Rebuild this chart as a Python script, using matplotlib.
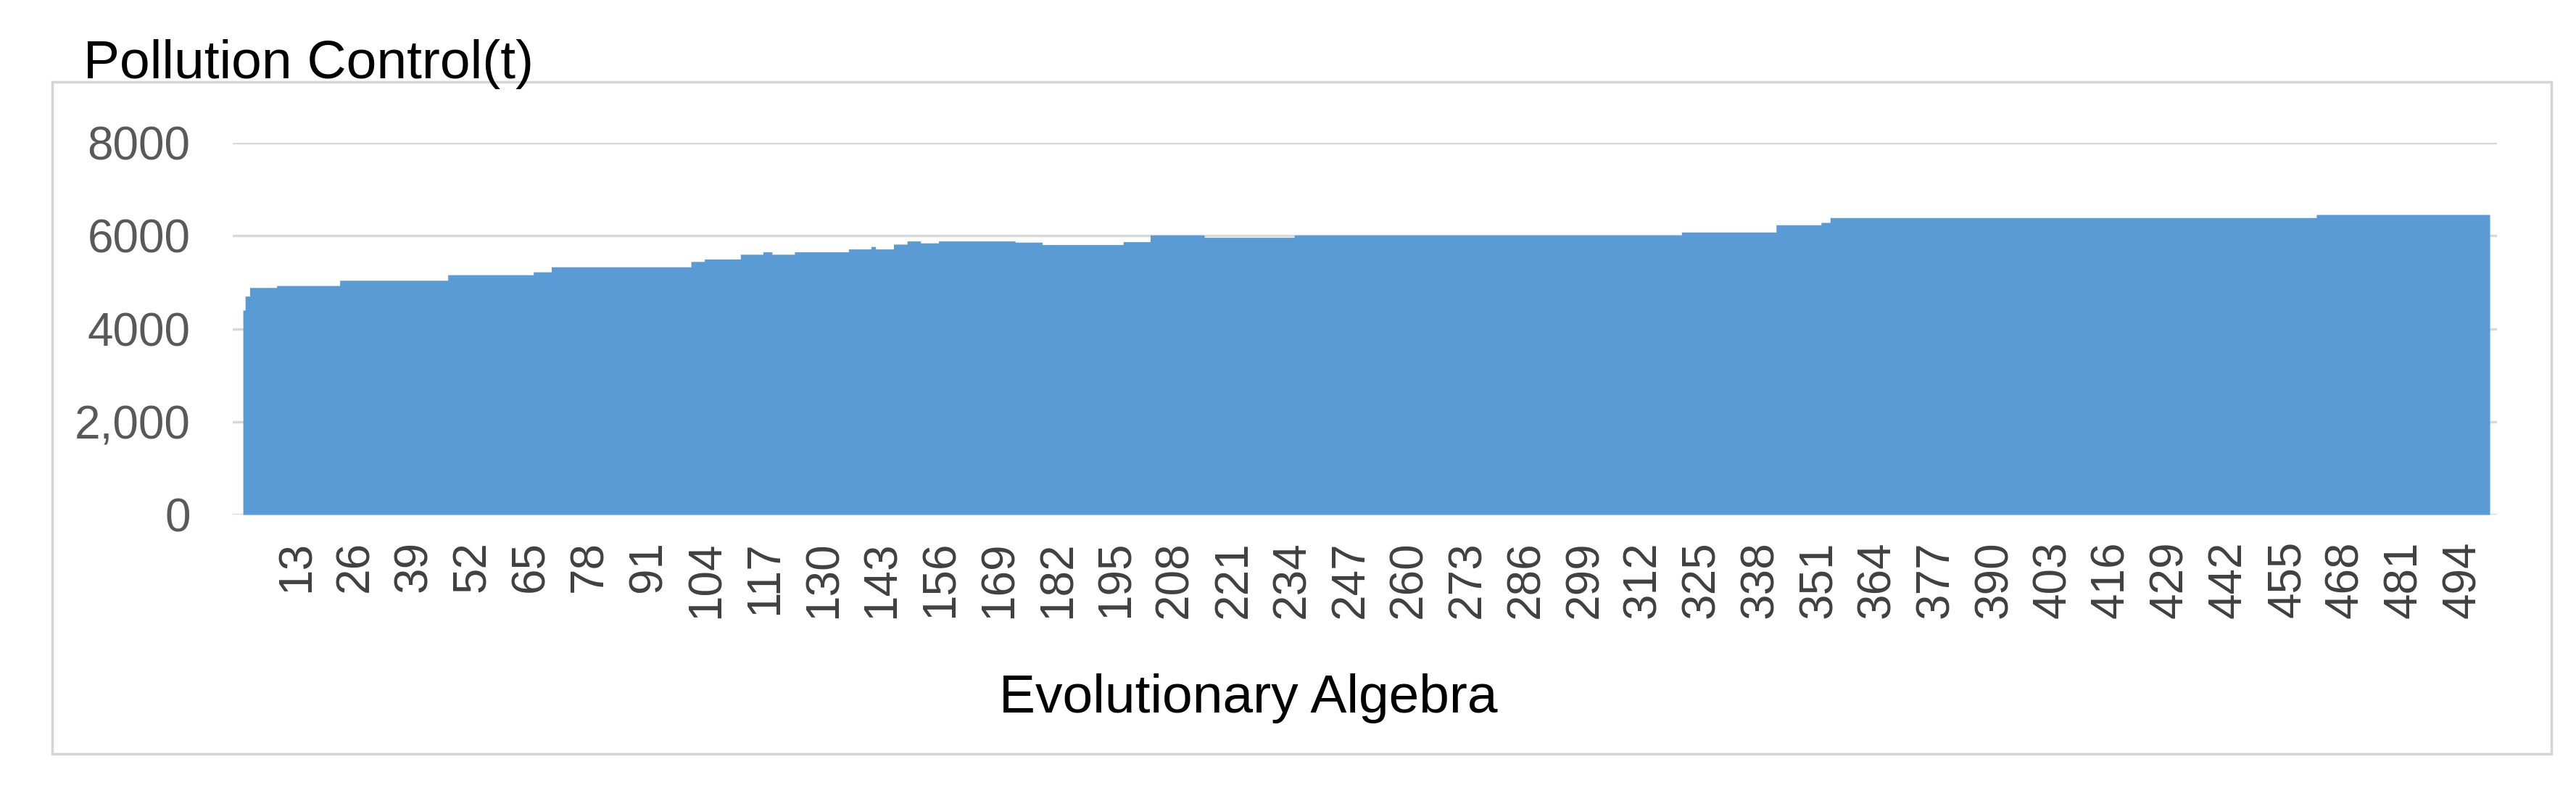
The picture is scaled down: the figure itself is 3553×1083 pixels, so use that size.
import numpy as np
import matplotlib
matplotlib.use("Agg")
import matplotlib.pyplot as plt
from matplotlib.patches import Rectangle

plt.rcParams['font.family'] = ['Liberation Sans', 'DejaVu Sans']

levels = [4400, 4700, 4885, 4927, 5040, 5160, 5222, 5330, 5445, 5497,
          5600, 5652, 5600, 5652, 5714, 5766, 5714, 5818, 5886, 5845,
          5886, 5860, 5808, 5870, 6015, 5964, 6015, 6078, 6234, 6285,
          6389, 6456]
run_lengths = [1, 1, 6, 14, 24, 19, 4, 31, 3, 8,
               5, 2, 5, 12, 5, 1, 4, 3, 3, 4,
               17, 6, 18, 6, 12, 20, 86, 21, 10, 2,
               108, 39]
generations = np.arange(1, 501)
pollution = np.repeat(levels, run_lengths)
tick_gens = list(range(13, 501, 13))
y_ticks = [0, 2000, 4000, 6000, 8000]
y_labels = ["0", "2,000", "4000", "6000", "8000"]

W, H = 3553, 1083
fig = plt.figure(figsize=(W / 100, H / 100), dpi=100)
fig.patch.set_facecolor('white')

# chart frame
fig.patches.append(Rectangle((72 / W, 1 - 1040 / H), (3519 - 72) / W, (1040 - 113) / H,
                             transform=fig.transFigure, fill=False,
                             edgecolor='#d4d4d4', linewidth=2.5))

ax = fig.add_axes([321 / W, 1 - 710 / H, (3444 - 321) / W, (710 - 197) / H])
ax.fill_between(generations, pollution, step='mid', color='#5b9bd5', linewidth=0, zorder=2)
ax.set_xlim(-1.27, 501.6)
ax.set_ylim(0, 8000)

ax.set_yticks(y_ticks)
ax.set_yticklabels(y_labels)
ax.yaxis.grid(True, color='#d9d9d9', linewidth=2.5, zorder=0)
ax.set_axisbelow(True)
for s in ax.spines.values():
    s.set_visible(False)

ax.set_xticks(tick_gens)
ax.set_xticklabels([str(t) for t in tick_gens], rotation=90, va='top')
ax.tick_params(axis='x', length=0, pad=26, labelsize=46, labelcolor='#404040')
ax.tick_params(axis='y', length=0, pad=42, labelsize=46, labelcolor='#595959')

fig.text(115 / W, 1 - 108 / H, "Pollution Control(t)", fontsize=54,
         color='black', ha='left', va='baseline')
fig.text(1722 / W, 1 - 963 / H, "Evolutionary Algebra", fontsize=54,
         color='black', ha='center', va='center')

fig.savefig("out.png", dpi=100)
